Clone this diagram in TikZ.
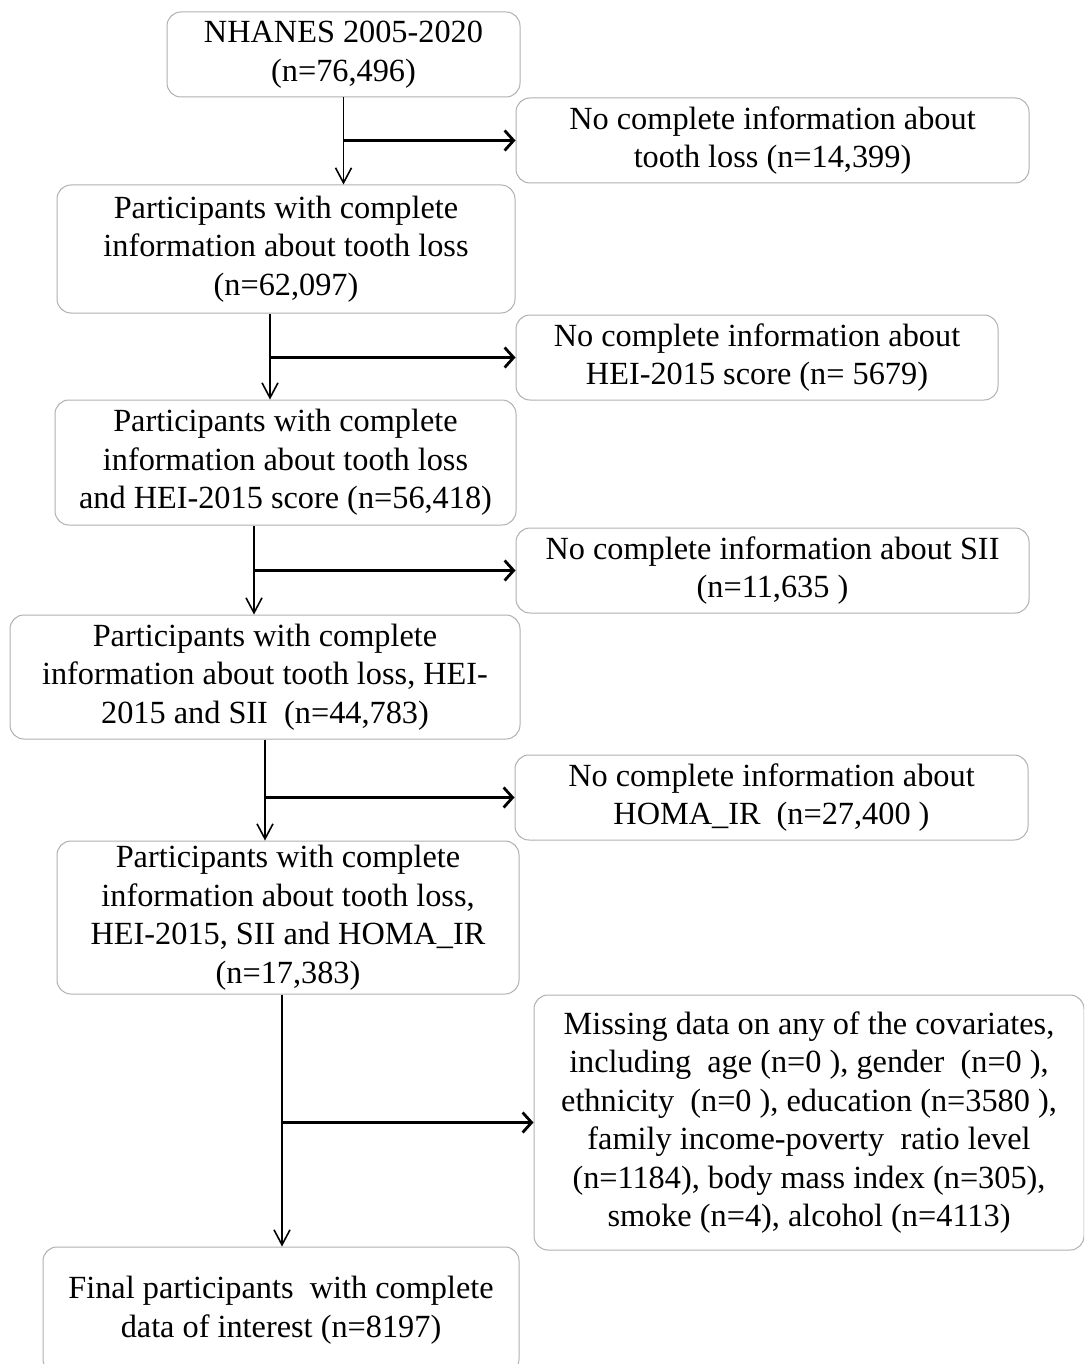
\documentclass[tikz,border=0pt]{standalone}
\usepackage{fontspec}
\setmainfont{Liberation Serif}
\usetikzlibrary{arrows.meta}
\definecolor{boxgray}{RGB}{175,175,175}

\begin{document}
\begin{tikzpicture}[x=1pt, y=-1pt,
	box/.style={draw=boxgray, line width=1pt, rounded corners=14pt, align=center,
        inner sep=0pt, font=\fontsize{32.3}{38.5}\selectfont},
	down/.style={line width=1.6pt, -{Straight Barb[length=15pt, width=16pt]}},
	side/.style={line width=2.8pt, -{Straight Barb[length=9pt, width=20pt]}}]
	\clip (0, 0) rectangle (1084, 1364);
	\node (N0) at (343.5, 54.5) [box, minimum width=353pt, minimum
        height=85pt] {NHANES 2005-2020\\(n=76,496)};
	\node (E1) at (772.5, 140.5) [box, minimum width=513pt, minimum
        height=85pt] {No complete information about\\tooth loss (n=14,399)};
	\node (P1) at (286, 249) [box, minimum width=458pt, minimum
        height=128pt] {Participants with complete\\information about tooth
        loss\\(n=62,097)};
	\node (E2) at (757, 357.5) [box, minimum width=482pt, minimum
        height=85pt] {No complete information about\\HEI-2015 score (n= 5679)};
	\node (P2) at (285.5, 462.5) [box, minimum width=461pt, minimum
        height=125pt] {Participants with complete\\information about tooth
        loss\\and HEI-2015 score (n=56,418)};
	\node (E3) at (772.5, 570.5) [box, minimum width=513pt, minimum
        height=85pt] {No complete information about SII\\(n=11,635 )};
	\node (P3) at (265, 677) [box, minimum width=510pt, minimum
        height=124pt] {Participants with complete\\information about tooth
        loss, HEI-\\2015 and SII\ \ (n=44,783)};
	\node (E4) at (771.5, 797.5) [box, minimum width=513pt, minimum
        height=85pt] {No complete information about\\HOMA\_IR\ \ (n=27,400 )};
	\node (P4) at (288, 917.5) [box, minimum width=462pt, minimum
        height=153pt] {Participants with complete\\information about tooth
        loss,\\HEI-2015, SII and HOMA\_IR\\(n=17,383)};
	\node (E5) at (809, 1122.5) [box, minimum width=550pt, minimum
        height=255pt] {Missing data on any of the covariates,\\including\ \
        age (n=0 ), gender\ \ (n=0 ),\\ethnicity\ \ (n=0 ), education
        (n=3580 ),\\family income-poverty\ \ ratio level\\(n=1184), body
        mass index (n=305),\\smoke (n=4), alcohol (n=4113)};
	\node (F0) at (281, 1310) [box, minimum width=476pt, minimum
        height=126pt] {Final participants\ \ with complete\\data of
        interest (n=8197)};

	\draw[down] (N0.south) -- (N0.south |- P1.north);
	\draw[side] (N0.south |- E1.west) -- (E1.west);
	\draw[down] ([xshift=-16pt]P1.south) -- ([xshift=-16pt]P1.south |- P2.north);
	\draw[side] ([xshift=-16pt]P1.south |- E2.west) -- (E2.west);
	\draw[down] ([xshift=-31.5pt]P2.south) -- ([xshift=-31.5pt]P2.south |- P3.north);
	\draw[side] ([xshift=-31.5pt]P2.south |- E3.west) -- (E3.west);
	\draw[down] (P3.south) -- (P3.south |- P4.north);
	\draw[side] (P3.south |- E4.west) -- (E4.west);
	\draw[down] ([xshift=-6pt]P4.south) -- ([xshift=-6pt]P4.south |- F0.north);
	\draw[side] ([xshift=-6pt]P4.south |- E5.west) -- (E5.west);
\end{tikzpicture}
\end{document}
